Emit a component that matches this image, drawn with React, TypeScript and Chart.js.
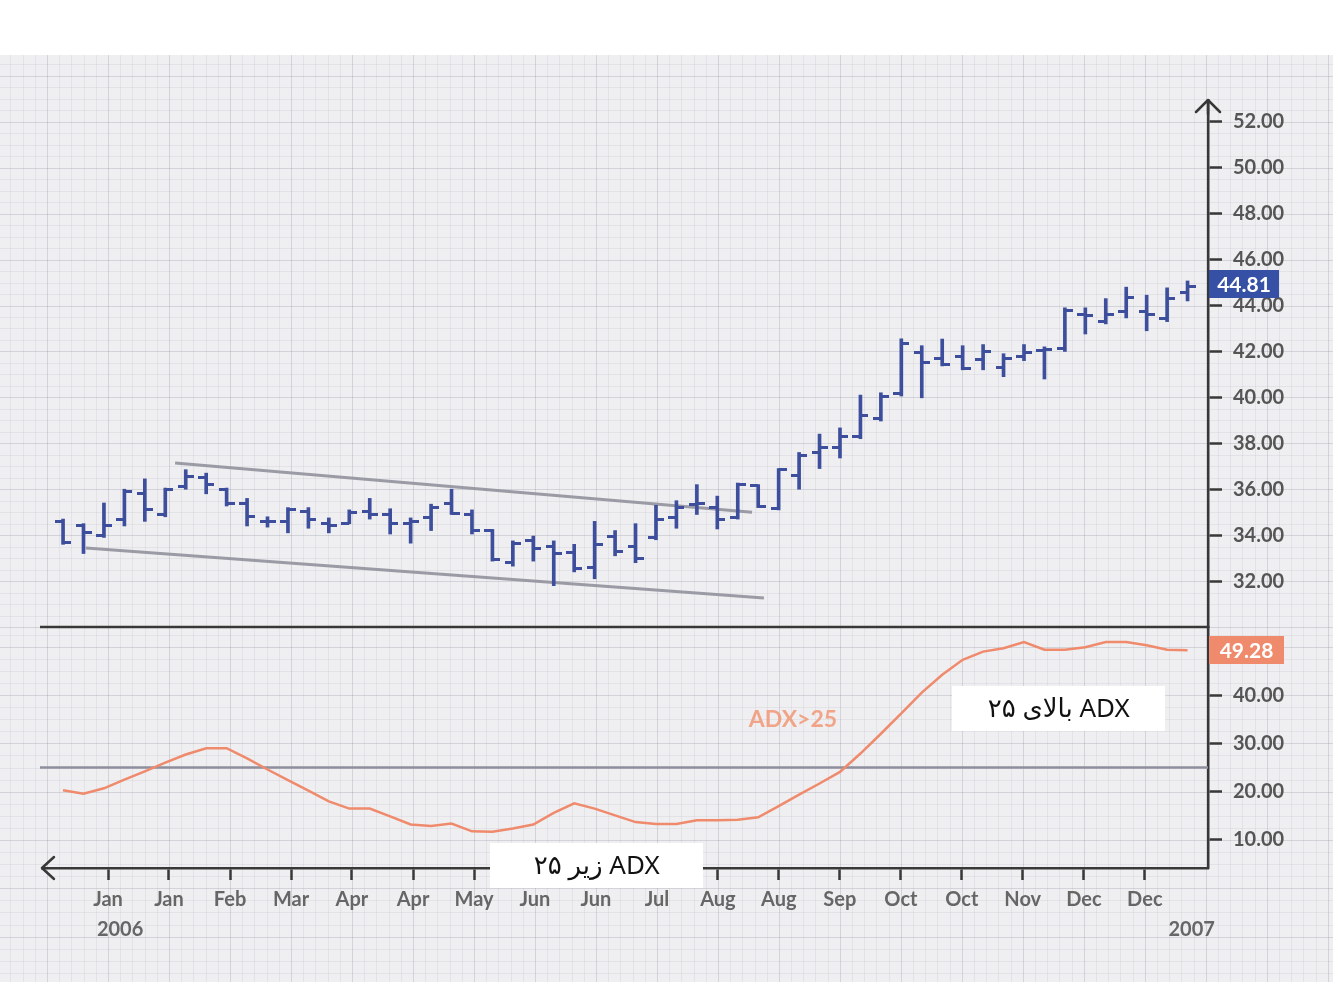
import React, { useEffect, useRef } from 'react';
import { Chart, registerables } from 'chart.js';

Chart.register(...registerables);

// ---------- data ----------
const OPEN = [34.6, 34.4, 34.0, 34.7, 35.8, 34.9, 36.1, 36.5, 36.0, 35.4, 34.6, 34.6, 35.05, 34.5, 34.5, 35.05, 34.9, 34.5, 34.75, 35.4, 34.9, 34.2, 32.8, 33.75, 33.5, 33.25, 32.6, 33.95, 33.5, 33.9, 34.75, 35.35, 35.2, 34.75, 36.15, 35.15, 36.6, 37.6, 37.8, 38.3, 39.1, 40.15, 41.95, 41.7, 41.8, 41.65, 41.3, 41.8, 42.05, 42.15, 43.6, 43.3, 43.75, 43.75, 43.45, 44.55];
const HIGH = [34.7, 34.5, 35.4, 36.0, 36.45, 36.05, 36.85, 36.7, 36.05, 35.6, 34.8, 35.2, 35.2, 34.75, 35.1, 35.6, 35.15, 34.75, 35.35, 36.0, 35.1, 34.25, 33.75, 33.96, 33.75, 33.6, 34.6, 34.2, 34.5, 35.3, 35.5, 36.2, 35.7, 36.27, 36.2, 36.9, 37.6, 38.4, 38.67, 40.1, 40.2, 42.55, 42.25, 42.54, 42.25, 42.3, 41.9, 42.3, 42.2, 43.9, 43.9, 44.3, 44.8, 44.45, 44.77, 45.07];
const LOW = [33.6, 33.2, 33.9, 34.4, 34.6, 34.8, 36.0, 35.8, 35.27, 34.4, 34.35, 34.1, 34.3, 34.1, 34.5, 34.7, 34.05, 33.65, 34.2, 34.9, 34.05, 32.87, 32.65, 32.87, 31.8, 32.4, 32.1, 33.1, 32.8, 33.8, 34.3, 34.9, 34.27, 34.7, 35.2, 35.1, 36.0, 36.9, 37.36, 38.2, 38.97, 40.06, 39.98, 41.37, 41.2, 41.2, 40.9, 41.6, 40.8, 42.0, 42.76, 43.2, 43.46, 42.9, 43.3, 44.2];
const CLOSE = [33.7, 34.1, 34.4, 35.9, 35.1, 36.0, 36.55, 36.2, 35.4, 34.8, 34.6, 35.1, 34.7, 34.4, 35.0, 34.9, 34.5, 34.6, 35.2, 34.95, 34.2, 32.95, 33.65, 33.4, 33.2, 32.55, 33.6, 33.3, 33.0, 34.7, 35.2, 35.4, 34.7, 36.2, 35.25, 36.85, 37.45, 37.8, 38.3, 39.2, 40.05, 42.35, 41.5, 41.45, 41.25, 42.0, 41.7, 41.95, 42.1, 43.8, 43.55, 43.6, 44.35, 43.6, 44.3, 44.81];
const ADX = [20.3, 19.6, 20.7, 22.5, 24.2, 26.0, 27.7, 29.0, 29.0, 26.9, 24.6, 22.4, 20.2, 18.0, 16.5, 16.5, 14.9, 13.2, 12.9, 13.4, 11.8, 11.7, 12.4, 13.2, 15.6, 17.6, 16.5, 15.1, 13.7, 13.3, 13.3, 14.1, 14.1, 14.2, 14.7, 17.0, 19.4, 21.7, 24.1, 27.9, 32.0, 36.2, 40.5, 44.2, 47.3, 49.0, 49.7, 51.0, 49.4, 49.4, 49.9, 51.0, 51.0, 50.3, 49.4, 49.28];

const MONTH_LABELS = ['Jan', 'Jan', 'Feb', 'Mar', 'Apr', 'Apr', 'May', 'Jun', 'Jun', 'Jul', 'Aug', 'Aug', 'Sep', 'Oct', 'Oct', 'Nov', 'Dec', 'Dec'];
const MONTH_TICKS = [2.2, 5.18, 8.17, 11.15, 14.13, 17.12, 20.1, 23.08, 26.06, 29.05, 32.03, 35.01, 37.99, 40.98, 43.96, 46.94, 49.93, 52.91];
const YEAR_LABELS = ['2006', '2007'];
const YEAR_TICKS = [2.79, 55.2];

const PRICE_TICKS = [32, 34, 36, 38, 40, 42, 44, 46, 48, 50, 52];
const ADX_TICKS = [10, 20, 30, 40];

const X_MIN = -1.03;
const X_MAX = 56.0;
const PRICE_MIN = 30;
const PRICE_MAX = 52.95;
const ADX_MIN = 4.2;
const ADX_MAX = 54.1;
const ADX_THRESHOLD = 25;

const UPPER_TREND = [{ x: 5.48, y: 37.14 }, { x: 33.7, y: 35.0 }];
const LOWER_TREND = [{ x: 1.12, y: 33.44 }, { x: 34.28, y: 31.26 }];

const ADX_NOTE = { x: 35.7, y: 35.0, text: 'ADX>25' };
const NOTE_ABOVE = { x: 48.7, y: 37.2, text: 'ADX بالای ۲۵' };
const NOTE_BELOW = { x: 26.1, y: 4.7, text: 'ADX زیر ۲۵' };

// ---------- styles ----------
const BAR_COLOR = '#3c4e9c';
const ADX_COLOR = '#ef8a6c';
const TREND_COLOR = 'rgba(150,150,160,0.95)';
const THRESHOLD_COLOR = '#8e8f9c';
const AXIS_COLOR = '#383838';
const PRICE_TAG = '#3550a5';
const ADX_TAG = '#f08a6c';
const ADX_TEXT_COLOR = 'rgba(242,150,118,0.85)';
const BG = '#efeff1';
const GRID_MAJOR = 'rgba(110,110,130,0.21)';
const GRID_MINOR = 'rgba(110,110,130,0.085)';
const BG_TOP = 55;
const BG_BOTTOM = 982;
const FONT = 'Lato, "Noto Sans", sans-serif';

type XT = { value: number; label: string | string[]; mark: boolean };
const X_TICKS: XT[] = [
  ...MONTH_TICKS.map((v, i) => ({ value: v, label: MONTH_LABELS[i], mark: true })),
  ...YEAR_TICKS.map((v, i) => ({ value: v, label: ['', YEAR_LABELS[i]], mark: false })),
].sort((a, b) => a.value - b.value);

function makeTick(side: 'left' | 'right') {
  const c = document.createElement('canvas');
  c.width = 16;
  c.height = 3;
  const g = c.getContext('2d')!;
  g.fillStyle = BAR_COLOR;
  if (side === 'left') g.fillRect(0, 0, 8, 3);
  else g.fillRect(8, 0, 8, 3);
  return c;
}

const decor = {
  id: 'decor',
  beforeDraw(chart: any) {
    const { ctx, width, height } = chart;
    const xs = chart.scales.x;
    const yp = chart.scales.y;
    const ya = chart.scales.y2;
    ctx.save();
    ctx.fillStyle = '#ffffff';
    ctx.fillRect(0, 0, width, height);
    ctx.fillStyle = BG;
    ctx.fillRect(0, BG_TOP, width, BG_BOTTOM - BG_TOP);
    ctx.lineWidth = 1;

    const n = MONTH_TICKS.length;
    const majorStep = (MONTH_TICKS[n - 1] - MONTH_TICKS[0]) / (n - 1);
    const minor = majorStep / 5;
    const v0 = xs.getValueForPixel(0);
    const v1 = xs.getValueForPixel(width);
    const kS = Math.floor((v0 - MONTH_TICKS[0]) / minor);
    const kE = Math.ceil((v1 - MONTH_TICKS[0]) / minor);
    for (let pass = 0; pass < 2; pass++) {
      ctx.strokeStyle = pass === 0 ? GRID_MINOR : GRID_MAJOR;
      ctx.beginPath();
      for (let k = kS; k <= kE; k++) {
        const isMajor = ((k % 5) + 5) % 5 === 0;
        if ((pass === 1) !== isMajor) continue;
        const px = Math.round(xs.getPixelForValue(MONTH_TICKS[0] + k * minor)) + 0.5;
        ctx.moveTo(px, BG_TOP);
        ctx.lineTo(px, BG_BOTTOM);
      }
      ctx.stroke();
    }

    const hLines = (scale: any, major: number, div: number, pTop: number, pBot: number) => {
      const mn = major / div;
      const vTop = scale.getValueForPixel(pTop);
      const vBot = scale.getValueForPixel(pBot);
      for (let pass = 0; pass < 2; pass++) {
        ctx.strokeStyle = pass === 0 ? GRID_MINOR : GRID_MAJOR;
        ctx.beginPath();
        for (let k = Math.ceil(vBot / mn); k <= Math.floor(vTop / mn); k++) {
          const isMajor = ((k % div) + div) % div === 0;
          if ((pass === 1) !== isMajor) continue;
          const py = Math.round(scale.getPixelForValue(k * mn)) + 0.5;
          ctx.moveTo(0, py);
          ctx.lineTo(width, py);
        }
        ctx.stroke();
      }
    };
    hLines(yp, 2, 4, BG_TOP, yp.bottom);
    hLines(ya, 10, 4, ya.top, BG_BOTTOM);
    ctx.restore();
  },
  beforeDatasetsDraw(chart: any) {
    const { ctx, chartArea } = chart;
    const yp = chart.scales.y;
    const ya = chart.scales.y2;
    ctx.save();
    const ty = ya.getPixelForValue(ADX_THRESHOLD);
    ctx.strokeStyle = THRESHOLD_COLOR;
    ctx.lineWidth = 2.5;
    ctx.beginPath();
    ctx.moveTo(chartArea.left - 2, ty);
    ctx.lineTo(chartArea.right, ty);
    ctx.stroke();
    const sy = yp.getPixelForValue(PRICE_MIN);
    ctx.strokeStyle = AXIS_COLOR;
    ctx.lineWidth = 2.5;
    ctx.beginPath();
    ctx.moveTo(chartArea.left - 2, sy);
    ctx.lineTo(chartArea.right, sy);
    ctx.stroke();
    ctx.restore();
  },
  afterDraw(chart: any) {
    const { ctx, chartArea } = chart;
    const xs = chart.scales.x;
    const yp = chart.scales.y;
    const ya = chart.scales.y2;
    ctx.save();
    ctx.strokeStyle = AXIS_COLOR;
    ctx.lineWidth = 2.5;
    ctx.lineCap = 'round';
    ctx.lineJoin = 'round';
    ctx.beginPath();
    ctx.moveTo(chartArea.right - 12, chartArea.top + 12);
    ctx.lineTo(chartArea.right, chartArea.top);
    ctx.lineTo(chartArea.right + 12, chartArea.top + 12);
    ctx.moveTo(chartArea.right, chartArea.top);
    ctx.lineTo(chartArea.right, chartArea.top + 14);
    ctx.stroke();
    ctx.beginPath();
    ctx.moveTo(chartArea.left + 12, chartArea.bottom - 11);
    ctx.lineTo(chartArea.left, chartArea.bottom);
    ctx.lineTo(chartArea.left + 12, chartArea.bottom + 11);
    ctx.stroke();

    const tag = (py: number, text: string, bg: string, w: number) => {
      const x0 = chartArea.right + 1;
      ctx.fillStyle = bg;
      ctx.fillRect(x0, Math.round(py) - 14, w, 28);
      ctx.fillStyle = '#ffffff';
      ctx.font = `bold 21px ${FONT}`;
      ctx.textAlign = 'center';
      ctx.textBaseline = 'middle';
      ctx.fillText(text, x0 + w / 2, Math.round(py) + 1);
    };
    const lastClose = CLOSE[CLOSE.length - 1];
    const lastAdx = ADX[ADX.length - 1];
    tag(yp.getPixelForValue(lastClose) - 3, lastClose.toFixed(2), PRICE_TAG, 70);
    tag(ya.getPixelForValue(lastAdx), lastAdx.toFixed(2), ADX_TAG, 75);

    ctx.fillStyle = ADX_TEXT_COLOR;
    ctx.font = `bold 23px ${FONT}`;
    ctx.textAlign = 'center';
    ctx.textBaseline = 'middle';
    ctx.fillText(ADX_NOTE.text, xs.getPixelForValue(ADX_NOTE.x), ya.getPixelForValue(ADX_NOTE.y));

    const note = (n: { x: number; y: number; text: string }) => {
      const cx = xs.getPixelForValue(n.x);
      const cy = ya.getPixelForValue(n.y);
      const w = 213;
      const h = 45;
      ctx.fillStyle = '#ffffff';
      ctx.fillRect(Math.round(cx - w / 2), Math.round(cy - h / 2), w, h);
      ctx.fillStyle = '#111111';
      ctx.font = '26px "Noto Sans", "DejaVu Sans", sans-serif';
      (ctx as any).direction = 'rtl';
      ctx.textAlign = 'center';
      ctx.textBaseline = 'middle';
      ctx.fillText(n.text, cx, cy + 1);
      (ctx as any).direction = 'ltr';
    };
    note(NOTE_ABOVE);
    note(NOTE_BELOW);
    ctx.restore();
  },
};

export default function App() {
  const ref = useRef<HTMLCanvasElement | null>(null);

  useEffect(() => {
    if (!ref.current) return;
    const openTick = makeTick('left');
    const closeTick = makeTick('right');
    const labelFont = { family: FONT, size: 20, weight: 'bold' as any };

    const chart = new Chart(ref.current, {
      type: 'line',
      data: {
        datasets: [
          {
            type: 'line',
            data: OPEN.map((v, i) => ({ x: i, y: v })),
            showLine: false,
            pointStyle: openTick as any,
            pointRadius: 3,
            xAxisID: 'x',
            yAxisID: 'y',
            order: 0,
          } as any,
          {
            type: 'line',
            data: CLOSE.map((v, i) => ({ x: i, y: v })),
            showLine: false,
            pointStyle: closeTick as any,
            pointRadius: 3,
            xAxisID: 'x',
            yAxisID: 'y',
            order: 0,
          } as any,
          {
            type: 'bar',
            data: OPEN.map((_, i) => ({ x: i, y: [LOW[i], HIGH[i]] })),
            backgroundColor: BAR_COLOR,
            borderWidth: 0,
            barThickness: 3,
            maxBarThickness: 3,
            xAxisID: 'x',
            yAxisID: 'y',
            order: 1,
          } as any,
          {
            type: 'line',
            data: UPPER_TREND,
            borderColor: TREND_COLOR,
            borderWidth: 3,
            pointRadius: 0,
            xAxisID: 'x',
            yAxisID: 'y',
            order: 5,
          } as any,
          {
            type: 'line',
            data: LOWER_TREND,
            borderColor: TREND_COLOR,
            borderWidth: 3,
            pointRadius: 0,
            xAxisID: 'x',
            yAxisID: 'y',
            order: 5,
          } as any,
          {
            type: 'line',
            data: ADX.map((v, i) => ({ x: i, y: v })),
            borderColor: ADX_COLOR,
            borderWidth: 2.5,
            pointRadius: 0,
            tension: 0,
            xAxisID: 'x',
            yAxisID: 'y2',
            order: 2,
          } as any,
        ],
      },
      options: {
        responsive: false,
        animation: false,
        devicePixelRatio: 1,
        events: [],
        layout: { padding: { left: 42, top: 100, right: 0, bottom: 0 } },
        plugins: { legend: { display: false }, tooltip: { enabled: false } },
        scales: {
          x: {
            type: 'linear',
            position: 'bottom',
            min: X_MIN,
            max: X_MAX,
            offset: false,
            afterBuildTicks: (s: any) => {
              s.ticks = X_TICKS.map((t) => ({ value: t.value }));
            },
            afterFit: (s: any) => {
              s.height = 132;
            },
            ticks: {
              autoSkip: false,
              maxRotation: 0,
              minRotation: 0,
              padding: 5,
              color: '#666666',
              font: { ...labelFont, lineHeight: 1.5 },
              callback: (_v: any, i: number) => X_TICKS[i].label,
            },
            grid: {
              offset: false,
              drawOnChartArea: false,
              drawTicks: true,
              tickLength: 12,
              tickWidth: 2.5,
              tickColor: (c: any) => (X_TICKS[c.index] && X_TICKS[c.index].mark ? AXIS_COLOR : 'rgba(0,0,0,0)'),
            },
            border: { display: true, color: AXIS_COLOR, width: 2.5 },
          },
          y: {
            type: 'linear',
            position: 'right',
            stack: 'panes',
            stackWeight: 527,
            min: PRICE_MIN,
            max: PRICE_MAX,
            beginAtZero: false,
            afterBuildTicks: (s: any) => {
              s.ticks = PRICE_TICKS.map((v) => ({ value: v }));
            },
            afterFit: (s: any) => {
              s.width = 125;
            },
            ticks: {
              padding: 11,
              color: '#555555',
              font: labelFont,
              callback: (v: any) => Number(v).toFixed(2),
            },
            grid: { offset: false, drawOnChartArea: false, drawTicks: true, tickLength: 14, tickWidth: 2.5, tickColor: AXIS_COLOR },
            border: { display: true, color: AXIS_COLOR, width: 2.5 },
          },
          y2: {
            type: 'linear',
            position: 'right',
            stack: 'panes',
            stackWeight: 241,
            min: ADX_MIN,
            max: ADX_MAX,
            beginAtZero: false,
            afterBuildTicks: (s: any) => {
              s.ticks = ADX_TICKS.map((v) => ({ value: v }));
            },
            afterFit: (s: any) => {
              s.width = 125;
            },
            ticks: {
              padding: 11,
              color: '#555555',
              font: labelFont,
              callback: (v: any) => Number(v).toFixed(2),
            },
            grid: { offset: false, drawOnChartArea: false, drawTicks: true, tickLength: 14, tickWidth: 2.5, tickColor: AXIS_COLOR },
            border: { display: true, color: AXIS_COLOR, width: 2.5 },
          },
        },
      } as any,
      plugins: [decor],
    });
    return () => chart.destroy();
  }, []);

  return (
    <div style={{ position: 'absolute', left: 0, top: 0, width: 1333, height: 1000 }}>
      <canvas ref={ref} width={1333} height={1000} style={{ display: 'block' }} />
    </div>
  );
}
